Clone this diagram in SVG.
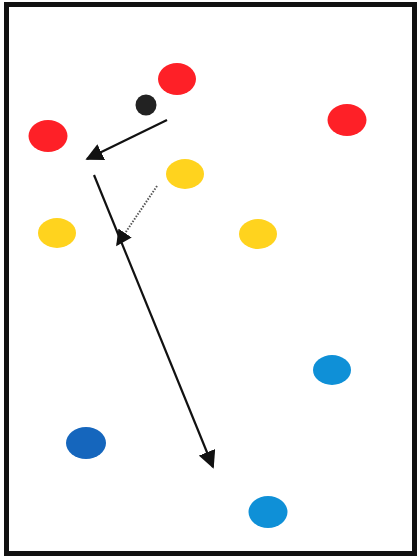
<svg xmlns="http://www.w3.org/2000/svg" width="417" height="557" viewBox="0 0 417 557">
<defs>
<style>
.red{fill:#fe2027}.yel{fill:#ffd31e}.lb{fill:#0f90d7}.db{fill:#1566bd}.blk{fill:#222}
.ln{stroke:#111;stroke-width:2.2;fill:none}
.dot{stroke:#555;stroke-width:2;stroke-dasharray:1.5 1.5;fill:none}
</style>
<marker id="ah" viewBox="0 0 10 10" refX="9" refY="5" markerWidth="7" markerHeight="7" markerUnits="userSpaceOnUse" orient="auto" >
<path d="M0,0 L10,5 L0,10 z" fill="#111"/>
</marker>
<marker id="ahb" viewBox="0 0 10 10" refX="9" refY="5" markerWidth="8" markerHeight="8" orient="auto" markerUnits="strokeWidth">
<path d="M0,0 L10,5 L0,10 z" fill="#111"/>
</marker>
</defs>
<rect x="0" y="0" width="417" height="557" fill="#fff"/>
<rect x="6.5" y="4.5" width="408" height="549" fill="#fff" stroke="#111" stroke-width="5"/>
<g id="red-top"><ellipse class="red" cx="177" cy="79" rx="19" ry="16"/></g>
<g id="black"><circle class="blk" cx="146" cy="105" r="10.5"/></g>
<g id="red-right"><ellipse class="red" cx="347" cy="120" rx="19.5" ry="16"/></g>
<g id="red-left"><ellipse class="red" cx="48" cy="136" rx="19.5" ry="16"/></g>
<g id="yellow-top"><ellipse class="yel" cx="185" cy="174" rx="19" ry="15"/></g>
<g id="yellow-left"><ellipse class="yel" cx="57" cy="233" rx="19" ry="15"/></g>
<g id="yellow-right"><ellipse class="yel" cx="258" cy="234" rx="19" ry="15"/></g>
<g id="blue-right"><ellipse class="lb" cx="332" cy="370" rx="19" ry="15"/></g>
<g id="darkblue"><ellipse class="db" cx="86" cy="443" rx="20" ry="16"/></g>
<g id="blue-bottom"><ellipse class="lb" cx="268" cy="512" rx="19.5" ry="16"/></g>
<g id="connectors">
<line class="ln" x1="167" y1="120" x2="87" y2="159" marker-end="url(#ahb)"/>
<line class="ln" x1="94" y1="175" x2="213" y2="467" marker-end="url(#ahb)"/>
<line class="dot" x1="157" y1="186" x2="117" y2="245" marker-end="url(#ahb)"/>
</g>
</svg>
